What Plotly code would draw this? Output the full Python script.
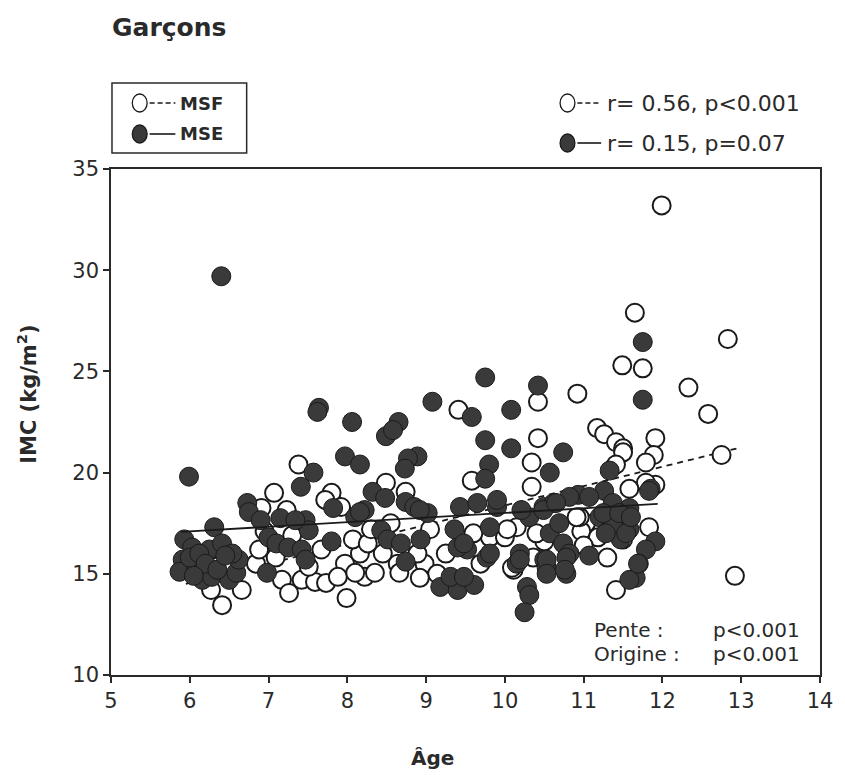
import plotly.graph_objects as go

# ---------------- data ----------------
mse_age = [6.40, 5.99, 7.64, 7.62, 8.06, 8.65, 8.49, 8.58, 9.08, 9.75, 9.58, 10.08, 10.42, 9.75, 10.08, 10.74,
           11.75, 11.75, 11.85, 11.91, 11.79, 11.70, 11.66,
           8.89, 9.80, 9.75, 10.57, 11.33, 10.93, 11.26, 11.37, 11.58, 11.83, 11.20, 11.33, 11.58, 11.47, 11.07,
           11.58, 11.69,
           9.02, 9.43, 9.65, 9.90, 9.36, 9.52, 9.77, 10.31, 10.49, 10.62, 10.57, 10.74, 10.69, 10.19, 10.15, 10.50,
           10.53, 10.82, 10.78, 10.28, 10.31, 10.25, 9.18, 9.40, 9.61, 9.31, 9.40, 11.07, 10.82,
           7.57, 7.41, 7.97, 8.16, 8.77, 8.73, 7.82, 8.32, 8.48, 8.22, 8.10, 8.74, 8.85, 6.73, 6.75, 6.90, 7.15,
           7.47, 7.51, 7.34, 6.31, 5.93, 6.03, 5.91, 5.87, 6.08, 6.25, 6.41, 6.16, 6.28, 6.50, 6.59, 6.62, 6.54,
           6.98, 7.00, 7.10, 7.25, 7.42, 7.47, 7.80, 8.16, 8.43, 8.51, 8.68, 8.74, 8.93, 8.92,
           11.37, 11.28, 11.54, 9.90, 9.81, 10.21, 10.49, 10.65, 9.81, 9.48, 9.48, 10.19, 10.53, 10.78, 10.53,
           10.76, 11.25, 11.45, 11.60, 6.00, 6.12, 6.20, 6.35, 6.45, 6.05]
mse_imc = [29.7, 19.8, 23.2, 23.0, 22.5, 22.5, 21.8, 22.1, 23.5, 24.7, 22.75, 23.1, 24.3, 21.6, 21.2, 21.0,
           26.45, 23.6, 19.2, 16.6, 16.2, 15.5, 14.8,
           20.8, 20.4, 19.7, 20.0, 20.1, 18.9, 19.1, 18.5, 18.25, 19.1, 17.8, 17.2, 17.2, 16.7, 15.9,
           14.7, 15.5,
           18.0, 18.3, 18.5, 18.3, 17.2, 16.2, 15.8, 17.8, 18.3, 18.5, 17.0, 16.5, 17.5, 16.0, 15.5, 15.7,
           15.3, 16.0, 15.0, 14.35, 13.95, 13.1, 14.35, 14.2, 14.45, 14.85, 16.3, 18.8, 18.8,
           20.0, 19.3, 20.8, 20.4, 20.7, 20.2, 18.25, 19.05, 18.75, 18.15, 17.8, 18.55, 18.3, 18.5, 18.05, 17.65,
           17.75, 17.65, 17.15, 17.65, 17.3, 16.7, 16.3, 15.7, 15.1, 15.35, 16.2, 16.5, 14.7, 14.85, 14.7, 15.05,
           15.7, 16.0, 15.05, 16.8, 16.5, 16.3, 16.2, 15.7, 16.6, 18.05, 17.15, 16.7, 16.5, 15.6, 16.7, 18.15,
           17.5, 17.0, 17.0, 18.65, 17.3, 18.15, 18.15, 18.5, 16.0, 16.5, 14.85, 15.7, 15.7, 15.8, 15.0,
           15.2, 18.0, 18.0, 17.8, 15.8, 16.0, 15.5, 15.2, 15.9, 14.9]

msf_age = [11.99, 11.65, 11.49, 11.75, 10.92, 10.42, 9.41, 10.42, 11.17, 11.26, 11.41, 11.50, 12.83, 12.33,
           12.58, 12.75, 12.92, 11.91, 11.89, 11.79, 11.91, 11.83,
           9.58, 10.34, 10.34, 11.50, 11.41, 11.79, 11.03, 10.97, 11.18, 11.41, 9.81, 10.00, 10.15, 10.11,
           10.36, 8.98, 9.14, 8.89, 10.03, 9.69, 10.95,
           7.38, 7.07, 7.80, 7.72, 7.92, 8.49, 8.74, 6.91, 7.23, 6.41, 6.27, 6.66, 6.33, 6.84, 6.88, 7.09, 7.17,
           7.26, 7.42, 7.59, 7.73, 7.51, 7.67, 7.97, 7.99, 7.88, 8.16, 8.22, 8.35, 8.10, 8.07, 8.26, 8.64, 8.66,
           8.92, 8.45,
           11.58, 10.91, 11.50, 10.09, 7.30, 6.95, 8.30, 8.55, 9.05, 9.25, 9.60, 10.50, 10.40, 11.00, 11.30]
msf_imc = [33.2, 27.9, 25.3, 25.15, 23.9, 23.5, 23.1, 21.7, 22.2, 21.9, 21.5, 21.2, 26.6, 24.2,
           22.9, 20.87, 14.9, 21.7, 20.87, 20.5, 19.4, 17.3,
           19.6, 20.5, 19.3, 21.0, 20.4, 19.5, 17.5, 17.1, 16.8, 14.2, 16.8, 16.8, 17.3, 15.2,
           15.8, 15.5, 15.0, 16.0, 17.2, 15.5, 17.8,
           20.4, 19.0, 19.0, 18.65, 18.3, 19.5, 19.05, 18.25, 18.15, 13.45, 14.2, 14.2, 15.35, 15.5, 16.2, 15.8,
           14.7, 14.05, 14.7, 14.6, 14.55, 15.35, 16.2, 15.5, 13.8, 14.85, 16.0, 14.85, 15.05, 15.05, 16.7, 16.5,
           15.5, 15.05, 14.8, 16.0,
           19.2, 17.8, 16.7, 15.3, 16.9, 17.1, 17.2, 17.5, 17.2, 16.0, 17.0, 16.6, 17.0, 16.4, 15.8]

msf_fit_age = [5.95, 12.95]
msf_fit_imc = [14.5, 21.2]
mse_fit_age = [5.89, 11.94]
mse_fit_imc = [17.07, 18.45]

x_ticks = [5, 6, 7, 8, 9, 10, 11, 12, 13, 14]
y_ticks = [10, 15, 20, 25, 30, 35]

# ---------------- layout helpers ----------------
W, H = 845, 775
L, R, T, B = 111, 18, 169, 100
PW, PH = W - L - R, H - T - B
def fx(px): return (px - L) / PW
def fy(py): return (H - B - py) / PH

FONT = "DejaVu Sans"
INK = "#2a2a2a"
DARK = "#3a3a3a"

fig = go.Figure()
fig.add_trace(go.Scatter(x=msf_fit_age, y=msf_fit_imc, mode="lines",
                         line=dict(color="#1a1a1a", width=1.8, dash="6px,5px")))
fig.add_trace(go.Scatter(x=msf_age, y=msf_imc, mode="markers", name="MSF",
                         marker=dict(size=18, color="white", line=dict(color="#1a1a1a", width=2))))
fig.add_trace(go.Scatter(x=mse_age, y=mse_imc, mode="markers", name="MSE",
                         marker=dict(size=19, color=DARK, line=dict(color="#1a1a1a", width=1))))
fig.add_trace(go.Scatter(x=mse_fit_age, y=mse_fit_imc, mode="lines",
                         line=dict(color="#1a1a1a", width=1.8)))

shapes = []
# legend box
shapes.append(dict(type="rect", xref="paper", yref="paper", x0=fx(112), x1=fx(248), y0=fy(83), y1=fy(153),
                   line=dict(color=INK, width=1.5)))
def circ(cx, cy, filled, w=15, h=18):
    return dict(type="circle", xref="paper", yref="paper",
                x0=fx(cx - w / 2), x1=fx(cx + w / 2), y0=fy(cy + h / 2), y1=fy(cy - h / 2),
                line=dict(color="#1a1a1a", width=1.3),
                fillcolor=DARK if filled else "white")
def seg(x0, x1, y, dash):
    return dict(type="line", xref="paper", yref="paper", x0=fx(x0), x1=fx(x1), y0=fy(y), y1=fy(y),
                line=dict(color="#1a1a1a", width=1.6, dash="5px,3px" if dash else "solid"))
shapes += [circ(140, 103, False), seg(150, 176, 103, True),
           circ(140, 134, True), seg(150, 176, 134, False),
           circ(572, 103, False), seg(582, 606, 103, True),
           circ(572, 143, True), seg(582, 606, 143, False)]

ann = []
def text(px, py, s, size=20, bold=False, anchor="left", angle=0):
    ann.append(dict(xref="paper", yref="paper", x=fx(px), y=fy(py), text=f"<b>{s}</b>" if bold else s,
                    showarrow=False, xanchor=anchor, yanchor="middle", textangle=angle,
                    font=dict(family=FONT, size=size, color=INK)))
text(110, 27, "Garçons", size=25, bold=True)
text(179, 103, "MSF", size=18, bold=True)
text(179, 134, "MSE", size=18, bold=True)
text(610, 103, "r= 0.56, p<0.001", size=22)
text(610, 143, "r= 0.15, p=0.07", size=22)
text(597, 630, "Pente :", size=20)
text(717, 630, "p<0.001", size=20)
text(597, 654, "Origine :", size=20)
text(717, 654, "p<0.001", size=20)
text(436, 758, "Âge", size=20, bold=True, anchor="center")
text(26, 394, "IMC (kg/m<sup>2</sup>)", size=21, bold=True, anchor="center", angle=-90)

axis_common = dict(showgrid=False, zeroline=False, showline=True, linecolor=INK, linewidth=1.5,
                   mirror=True, ticks="outside", ticklen=6, tickwidth=1.5, tickcolor=INK,
                   tickfont=dict(family=FONT, size=21, color=INK))
fig.update_xaxes(range=[5, 14], tickvals=x_ticks, ticktext=[str(v) for v in x_ticks], **axis_common)
fig.update_yaxes(range=[10, 35], tickvals=y_ticks, ticktext=[str(v) for v in y_ticks], **axis_common)

fig.update_layout(width=W, height=H, margin=dict(l=L, r=R, t=T, b=B), showlegend=False,
                  plot_bgcolor="white", paper_bgcolor="white", shapes=shapes, annotations=ann)
fig.write_html("out.html")
